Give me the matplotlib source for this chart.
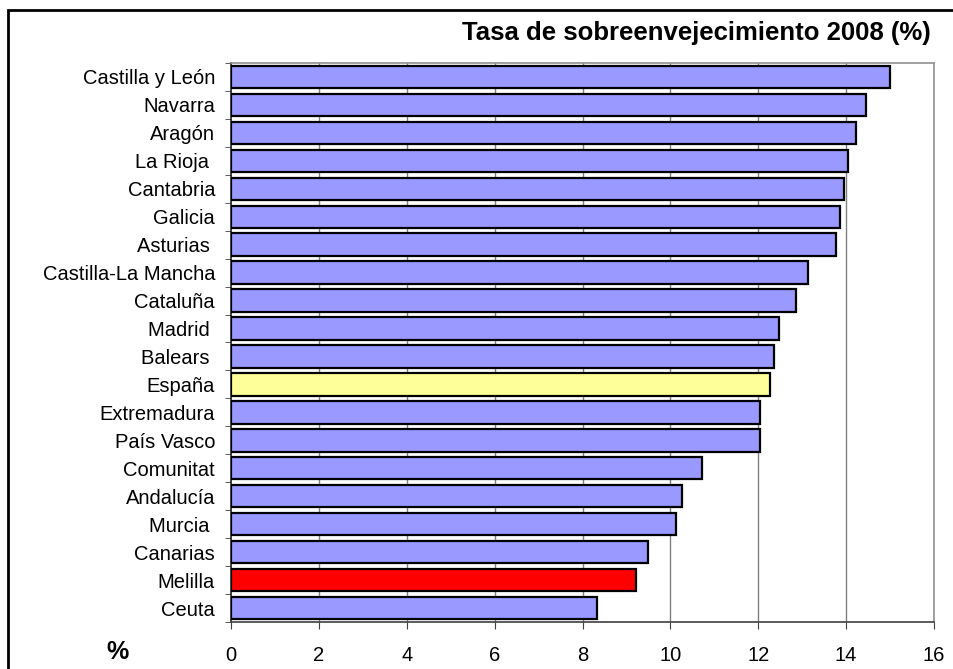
import numpy as np
import matplotlib.pyplot as plt
from matplotlib.patches import Rectangle

plt.rcParams['font.family'] = ['Liberation Sans', 'DejaVu Sans']

# data, top to bottom as in the chart
regiones = ['Castilla y León', 'Navarra', 'Aragón', 'La Rioja ', 'Cantabria', 'Galicia',
            'Asturias ', 'Castilla-La Mancha', 'Cataluña', 'Madrid ', 'Balears ', 'España',
            'Extremadura', 'País Vasco', 'Comunitat', 'Andalucía', 'Murcia ', 'Canarias',
            'Melilla', 'Ceuta']
tasa = [15.0, 14.45, 14.22, 14.04, 13.95, 13.85, 13.76, 13.13, 12.86, 12.48, 12.36, 12.26,
        12.03, 12.03, 10.72, 10.27, 10.13, 9.49, 9.22, 8.32]
xticks = [0, 2, 4, 6, 8, 10, 12, 14, 16]

colores = []
for r in regiones:
    if r == 'España':
        colores.append('#FFFF99')
    elif r == 'Melilla':
        colores.append('#FF0000')
    else:
        colores.append('#9999FF')

fig = plt.figure(figsize=(9.54, 6.69), dpi=100)
ax = fig.add_axes([231/954, 1-622/669, 703/954, 559/669])

y = np.arange(len(regiones))
ax.barh(y, tasa, height=0.8, color=colores, edgecolor='black', linewidth=1.6, zorder=3)
ax.set_ylim(len(regiones)-0.5, -0.5)
ax.set_xlim(0, 16)

# grid
for t in xticks[1:-1]:
    ax.axvline(t, color='#808080', lw=1, zorder=1)

ax.set_xticks(xticks)
ax.set_xticklabels([str(t) for t in xticks], fontsize=14.5)
ax.tick_params(axis='x', direction='out', length=5, color='#404040', pad=12)

ax.set_yticks(y)
ax.set_yticklabels(regiones, fontsize=14.5)
ax.set_yticks(np.arange(len(regiones)+1)-0.5, minor=True)
ax.tick_params(axis='y', which='major', length=0, pad=11.5)
ax.tick_params(axis='y', which='minor', direction='out', length=4, color='#404040')

ax.spines['left'].set_color('#202020')
ax.spines['bottom'].set_color('#404040')
ax.spines['top'].set_color('#909090')
ax.spines['right'].set_color('#909090')
for s in ax.spines.values():
    s.set_linewidth(1.2)

fig.text(931/954, 1-33/669, 'Tasa de sobreenvejecimiento 2008 (%)', ha='right', va='center',
         fontsize=18.5, fontweight='bold')
fig.text(118/954, 1-652/669, '%', ha='center', va='center', fontsize=18, fontweight='bold')

# outer frame
fig.patches.append(Rectangle((8.5/954, -0.1), 1.2, 1.1-9.5/669, transform=fig.transFigure,
                             fill=False, edgecolor='black', lw=2))

fig.savefig('out.png', dpi=100)
